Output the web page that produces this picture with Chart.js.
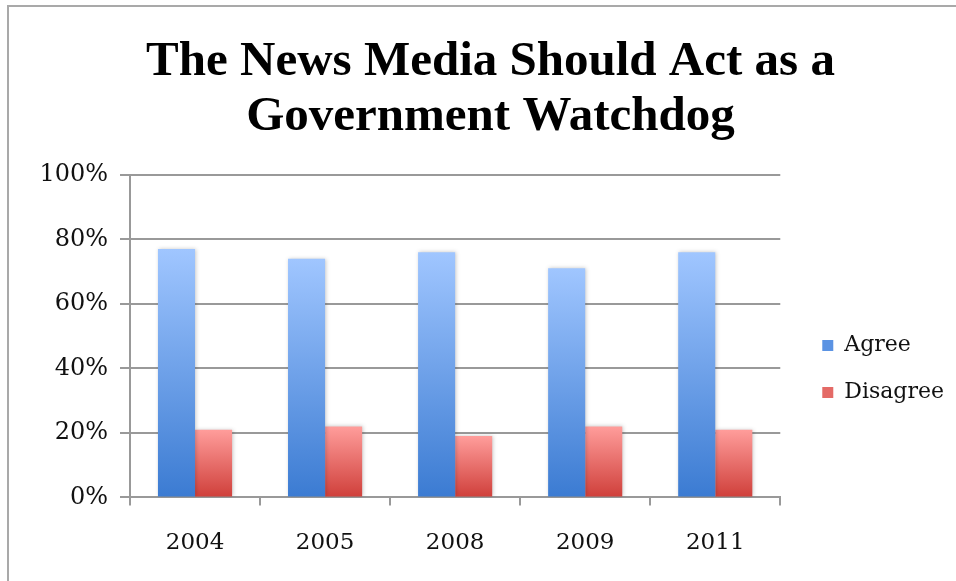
<!DOCTYPE html>
<html lang="en">
<head>
    <meta charset="UTF-8">
    <title>The News Media Should Act as a Government Watchdog</title>
    <style>
        html, body {
            margin: 0;
            padding: 0;
            background-color: #fff;
        }
        .frame {
            position: absolute;
            left: 7px;
            top: 5px;
            width: 949px;
            height: 576px;
            border-top: 2px solid #a9a9a9;
            border-left: 2px solid #a9a9a9;
        }
        .chart-container {
            position: absolute;
            left: 0;
            top: 0;
            width: 956px;
            height: 581px;
        }
    </style>
    <script src="https://cdn.jsdelivr.net/npm/chart.js"></script>
</head>
<body>
    <div class="frame"></div>
    <div class="chart-container">
        <canvas id="watchdogChart" width="956" height="581"></canvas>
    </div>

    <script>
        // data
        const years = ['2004', '2005', '2008', '2009', '2011'];
        const agree = [77, 74, 76, 71, 76];
        const disagree = [21, 22, 19, 22, 21];
        const yTicks = [0, 20, 40, 60, 80, 100];

        const serif = "'DejaVu Serif', serif";
        const legendColors = ['#5b93e3', '#e46a66'];

        // vertical gradient per bar, light at top, dark at the base
        function barGradient(top, bottom, flat) {
            return function (ctx) {
                const chart = ctx.chart;
                if (ctx.type !== 'data' || !chart.chartArea) return flat;
                const y = chart.scales.y;
                const y0 = y.getPixelForValue(ctx.parsed.y);
                const y1 = y.getPixelForValue(0);
                const g = chart.ctx.createLinearGradient(0, y0, 0, y1);
                g.addColorStop(0, top);
                g.addColorStop(1, bottom);
                return g;
            };
        }

        // soft shadow around the bars
        const barShadow = {
            id: 'barShadow',
            beforeDatasetsDraw(chart) {
                const c = chart.ctx;
                c.save();
                c.shadowColor = 'rgba(0,0,0,0.22)';
                c.shadowBlur = 4;
                c.shadowOffsetX = 1;
                c.shadowOffsetY = 0;
            },
            afterDatasetsDraw(chart) {
                chart.ctx.restore();
            }
        };

        // place legend and title the way the original sits
        const boxNudge = {
            id: 'boxNudge',
            beforeDraw(chart) {
                const area = chart.chartArea;
                const lg = chart.legend;
                if (lg) {
                    lg.left = area.right + 17;
                    lg.right = lg.left + lg.width;
                    lg.top = area.top + 33;
                    lg.bottom = area.bottom + 33;
                }
                const tb = chart.titleBlock;
                if (tb) {
                    tb.left = 25;
                    tb.right = chart.width;
                }
            }
        };

        new Chart(document.getElementById('watchdogChart'), {
            type: 'bar',
            data: {
                labels: years,
                datasets: [{
                    label: 'Agree',
                    data: agree,
                    backgroundColor: barGradient('#a0c6ff', '#3b7bd2', legendColors[0]),
                    borderWidth: 0,
                    categoryPercentage: 0.57,
                    barPercentage: 1.0
                }, {
                    label: 'Disagree',
                    data: disagree,
                    backgroundColor: barGradient('#ff9d9b', '#cf3f3a', legendColors[1]),
                    borderWidth: 0,
                    categoryPercentage: 0.57,
                    barPercentage: 1.0
                }]
            },
            options: {
                responsive: false,
                animation: false,
                layout: {
                    padding: { left: 24, right: 19, top: 8, bottom: 0 }
                },
                plugins: {
                    title: {
                        display: true,
                        text: ['The News Media Should Act as a', 'Government Watchdog'],
                        color: '#000',
                        font: { family: "'Liberation Serif', serif", size: 49, weight: 'bold', lineHeight: 1.12 },
                        padding: { top: 27, bottom: 30 }
                    },
                    legend: {
                        position: 'right',
                        align: 'center',
                        labels: {
                            color: '#111',
                            font: { family: serif, size: 22 },
                            boxWidth: 11,
                            boxHeight: 11,
                            padding: 25,
                            generateLabels(chart) {
                                const items = Chart.defaults.plugins.legend.labels.generateLabels(chart);
                                items.forEach((it, i) => {
                                    it.fillStyle = legendColors[i];
                                    it.strokeStyle = legendColors[i];
                                    it.lineWidth = 0;
                                });
                                return items;
                            }
                        }
                    },
                    tooltip: { enabled: false }
                },
                scales: {
                    x: {
                        grid: {
                            display: true,
                            drawOnChartArea: false,
                            offset: true,
                            tickLength: 8,
                            color: '#999',
                            lineWidth: 2
                        },
                        border: { color: '#999', width: 2 },
                        ticks: {
                            color: '#111',
                            font: { family: serif, size: 23 },
                            padding: 24
                        }
                    },
                    y: {
                        min: 0,
                        max: 100,
                        afterBuildTicks(scale) {
                            scale.ticks = yTicks.map(v => ({ value: v }));
                        },
                        afterFit(scale) {
                            scale.width = 106;
                        },
                        grid: {
                            color: '#999',
                            lineWidth: 2,
                            tickLength: 10
                        },
                        border: { color: '#999', width: 2 },
                        ticks: {
                            color: '#111',
                            font: { family: serif, size: 24 },
                            padding: 12,
                            callback: v => v + '%'
                        }
                    }
                }
            },
            plugins: [barShadow, boxNudge]
        });
    </script>
</body>
</html>
